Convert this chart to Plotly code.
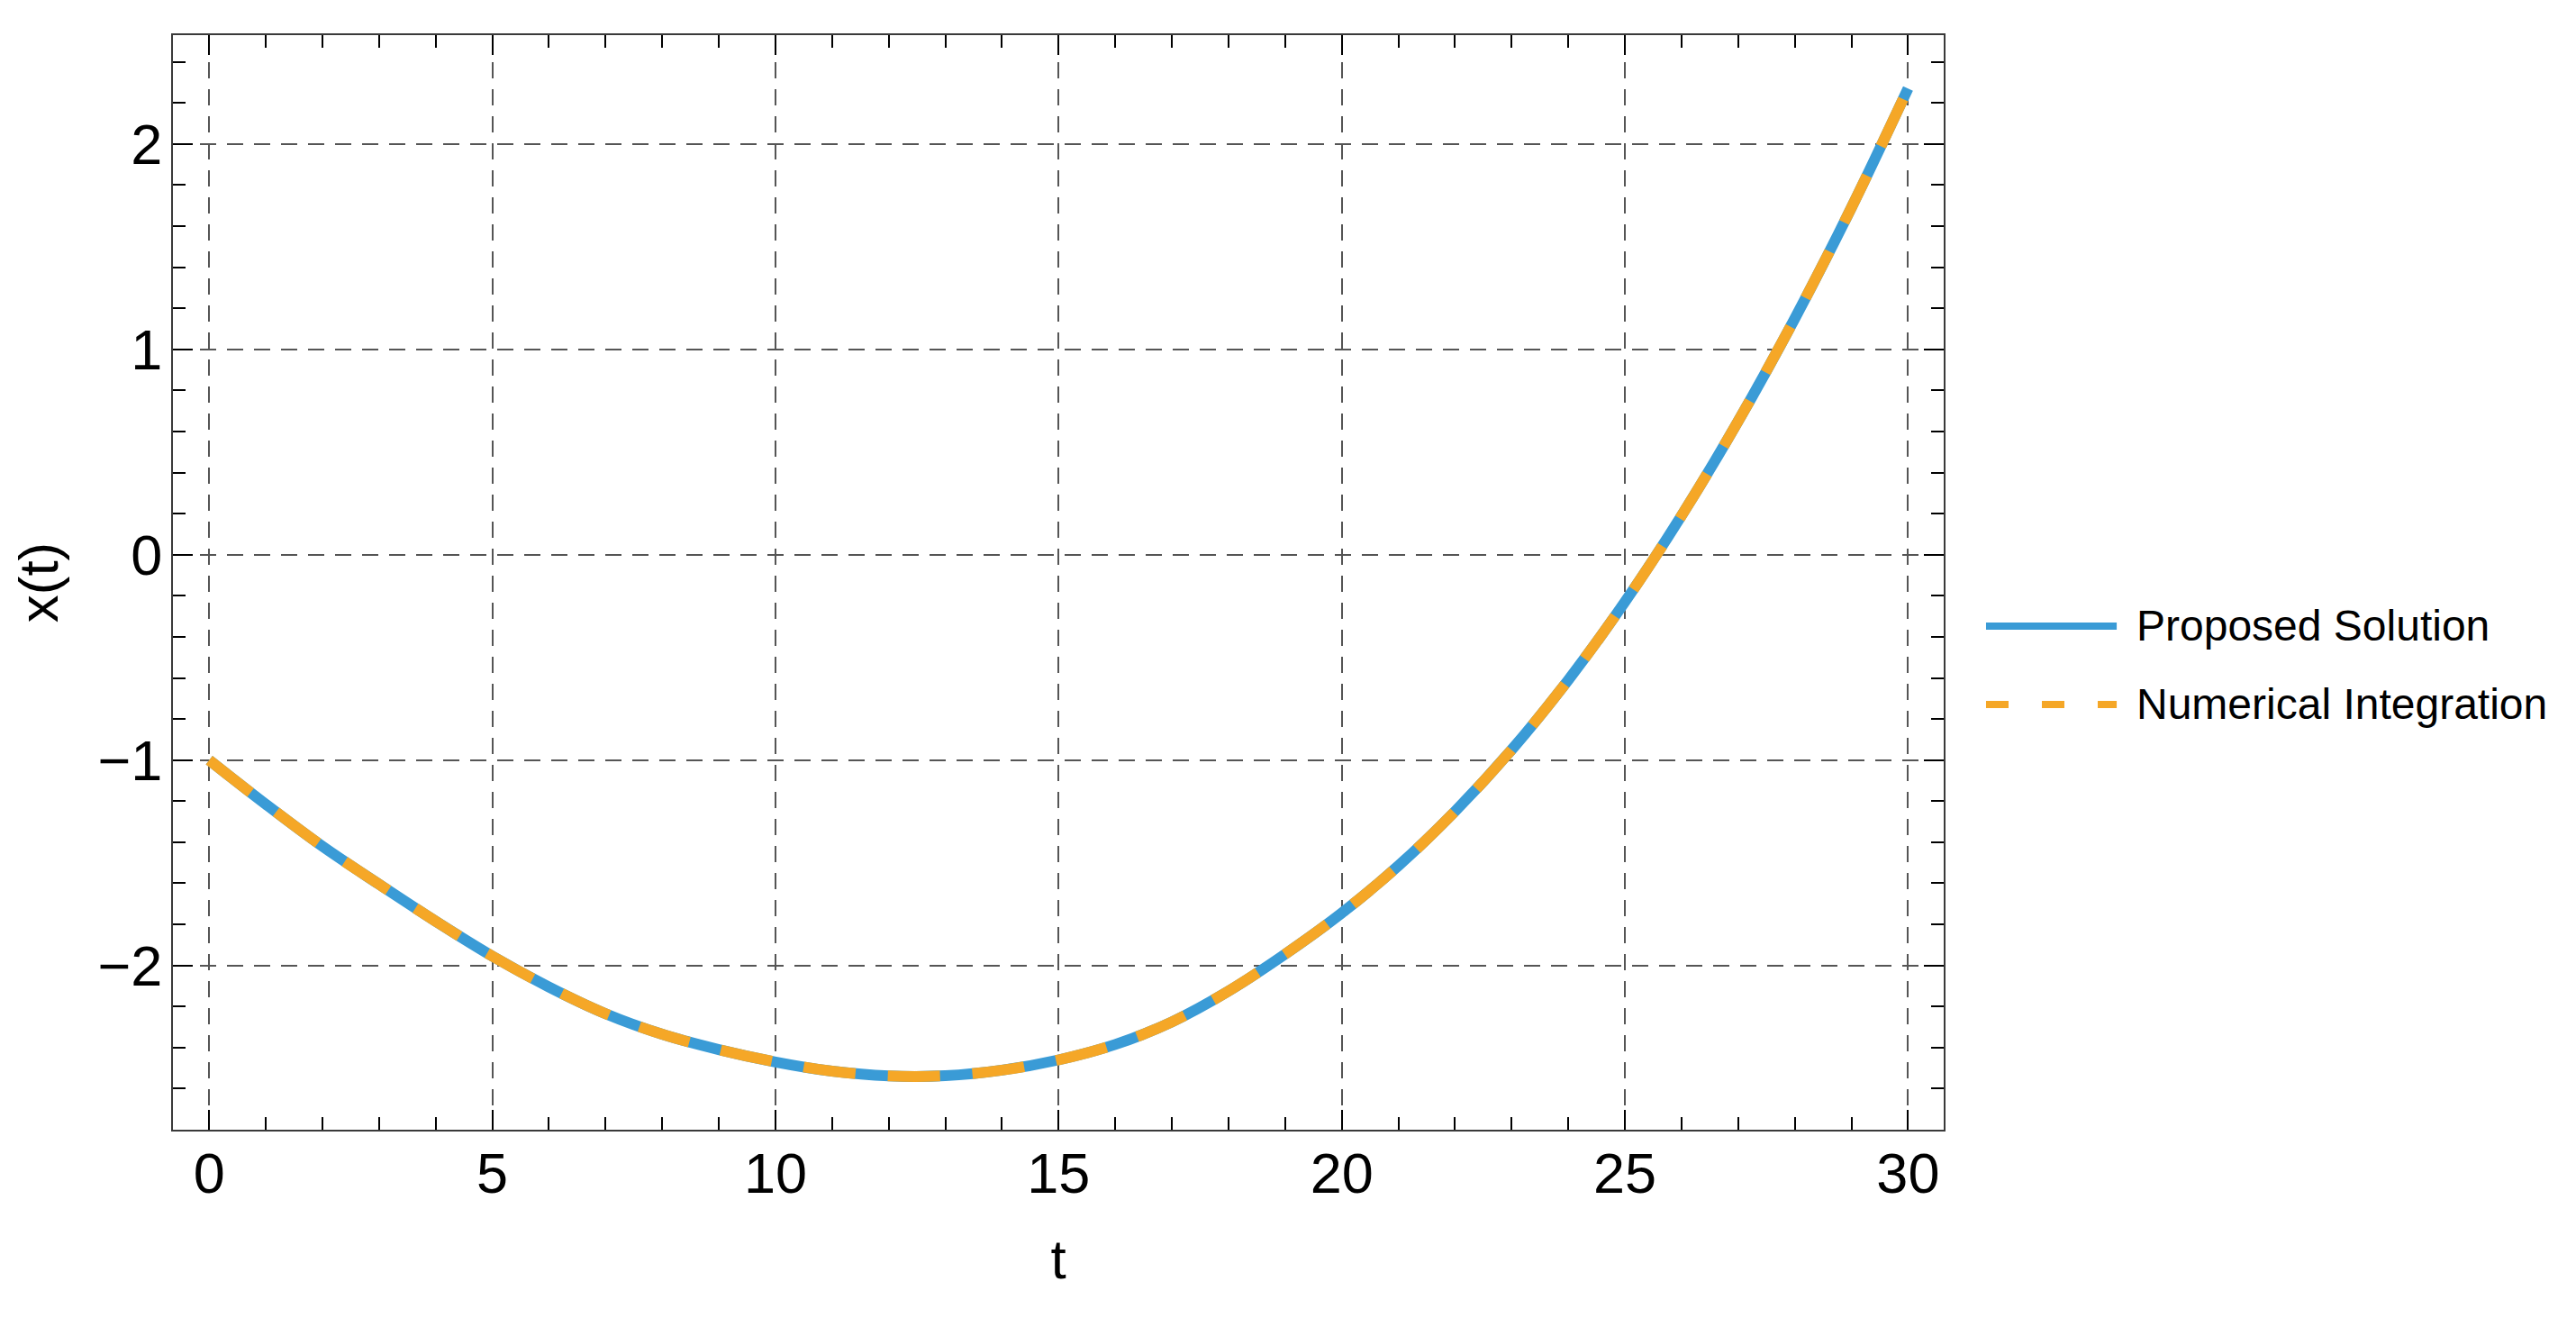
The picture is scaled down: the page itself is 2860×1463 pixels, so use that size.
import plotly.graph_objects as go

# values
t_values = list(range(31))
x_proposed = [-1.00, -1.215, -1.42, -1.605, -1.785, -1.955, -2.105, -2.235, -2.335, -2.41,
              -2.47, -2.515, -2.538, -2.537, -2.51, -2.46, -2.385, -2.275, -2.125, -1.945,
              -1.745, -1.515, -1.25, -0.95, -0.61, -0.23, 0.19, 0.65, 1.15, 1.69, 2.27]
x_numerical = [-1.00, -1.215, -1.42, -1.605, -1.785, -1.955, -2.105, -2.235, -2.335, -2.41,
               -2.47, -2.515, -2.538, -2.537, -2.51, -2.46, -2.385, -2.275, -2.125, -1.945,
               -1.745, -1.515, -1.25, -0.95, -0.61, -0.23, 0.19, 0.65, 1.15, 1.69, 2.27]
series_names = ["Proposed Solution", "Numerical Integration"]

blue = "#3A9BD6"
orange = "#F5A727"
font = "Liberation Sans, Arial, sans-serif"

fig = go.Figure()
fig.add_trace(go.Scatter(x=t_values, y=x_proposed, name=series_names[0], mode="lines",
                         line=dict(color=blue, width=12, shape="spline"), showlegend=False))
fig.add_trace(go.Scatter(x=t_values, y=x_numerical, name=series_names[1], mode="lines",
                         line=dict(color=orange, width=12, dash="58px,36px", shape="spline"),
                         showlegend=False))

axis_common = dict(
    showline=True, linecolor="#3a3a3a", linewidth=2, mirror="ticks",
    ticks="inside", ticklen=22, tickwidth=2, tickcolor="black",
    showgrid=True, gridcolor="#555555", gridwidth=1.5, griddash="18px,12px",
    zeroline=False,
    tickfont=dict(family=font, size=63, color="black"),
)

fig.update_xaxes(range=[-0.64, 30.63], tick0=0, dtick=5, ticklabelstandoff=-8,
                 minor=dict(dtick=1, ticks="inside", ticklen=14, tickwidth=1.5,
                            tickcolor="black", showgrid=False),
                 title=dict(text="t", font=dict(family=font, size=62, color="black"), standoff=40),
                 **axis_common)
fig.update_yaxes(range=[-2.80, 2.53], tick0=0, dtick=1, ticklabelstandoff=-3,
                 minor=dict(dtick=0.2, ticks="inside", ticklen=14, tickwidth=1.5,
                            tickcolor="black", showgrid=False),
                 title=dict(text="x(t)", font=dict(family=font, size=62, color="black"), standoff=42),
                 **axis_common)

# legend drawn by hand so the key lines are as long as in the reference
legend_rows = [(0.4601, blue, "solid"), (0.3885, orange, "25px,37px")]
for (yy, col, dash), label in zip(legend_rows, series_names):
    fig.add_shape(type="line", xref="paper", yref="paper", x0=1.0239, x1=1.0977, y0=yy, y1=yy,
                  line=dict(color=col, width=8, dash=dash))
    fig.add_annotation(xref="paper", yref="paper", x=1.108, y=yy, text=label, showarrow=False,
                       xanchor="left", yanchor="middle",
                       font=dict(family=font, size=48, color="black"))

# the page body has an 8px margin, so the margins are trimmed to keep the frame in place
fig.update_layout(width=2860, height=1463, plot_bgcolor="white", paper_bgcolor="white",
                  margin=dict(l=184, r=710, t=31, b=217), showlegend=False)

fig.write_html("out.html")
